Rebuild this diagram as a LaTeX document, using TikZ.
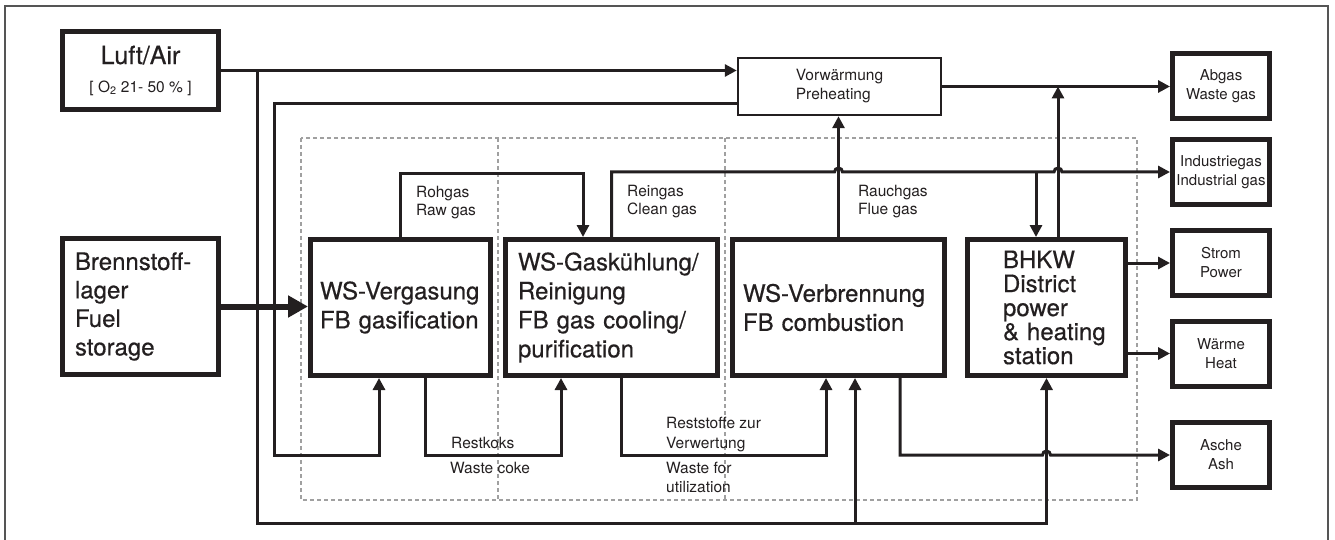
\documentclass[tikz,border=0pt]{standalone}
\usepackage{fontspec}
\setmainfont{TeX Gyre Heros}
\newfontface\medfont{TeX Gyre Heros}[FakeBold=0.5]
\usetikzlibrary{arrows.meta,calc}
\definecolor{ink}{HTML}{231F20}
\definecolor{framegray}{HTML}{555555}
\definecolor{dashgray}{HTML}{A0A0A0}
\exhyphenpenalty=10000
\hyphenpenalty=10000
\begin{document}
\begin{tikzpicture}[x=1pt,y=-1pt,
  pbox/.style={draw=ink, line width=5pt, align=left, inner sep=0pt, text=ink,
    font=\medfont\fontsize{24}{29}\selectfont},
  obox/.style={draw=ink, line width=5pt, align=center, inner sep=0pt,
    minimum width=97pt, minimum height=65pt, text=ink, font=\fontsize{15}{19}\selectfont},
  thinbox/.style={draw=ink, line width=2.5pt, align=left, inner sep=0pt, text=ink,
    font=\fontsize{15.5}{19}\selectfont},
  lab/.style={anchor=north west, inner sep=0pt, align=left, text=ink,
    font=\fontsize{15.5}{18}\selectfont},
  conn/.style={draw=ink, line width=3pt},
  arr/.style={conn, -{Triangle[length=12pt,width=12pt]}},
  fuelarr/.style={draw=ink, line width=6pt, -{Triangle[length=20pt,width=21pt]}},
  gdash/.style={draw=dashgray, line width=1.2pt, dash pattern=on 4pt off 3pt}]
\useasboundingbox (0,0) rectangle (1335,540);
\clip (0,0) rectangle (1335,540);
% frame and dashed zones
\draw[framegray, line width=1.5pt] (5,6) rectangle (1328,560);
\draw[gdash] (301,138) rectangle (1137,500);
\draw[gdash] (498,138) -- (498,500);
\draw[gdash] (725,138) -- (725,500);
% boxes
\node[pbox, align=center, minimum width=156pt, minimum height=78pt,
  font=\fontsize{15.5}{28}\selectfont] (luft) at (140.5,70.5)
  {{\medfont\fontsize{25}{28}\selectfont Luft/Air}\\{[ O\textsubscript{2} 21- 50 \% ]}};
\node[pbox, minimum width=156pt, minimum height=136pt, text width=131pt,
  font=\medfont\fontsize{24}{28.5}\selectfont] (brenn) at (140.5,306.5)
  {Brennstoff-\\lager\\Fuel\\storage};
\node[pbox, minimum width=180pt, minimum height=136pt, text width=161pt] (verg) at (400.5,307.5)
  {WS-Vergasung\\FB gasification};
\node[pbox, minimum width=212pt, minimum height=136pt, text width=187pt] (gask) at (611.5,307.5)
  {WS-Gaskühlung/\\Reinigung\\FB gas cooling/\\purification};
\node[pbox, minimum width=212pt, minimum height=136pt, text width=191pt] (verb) at (838.5,307.5)
  {WS-Verbrennung\\FB combustion};
\node[pbox, minimum width=158pt, minimum height=136pt, text width=87pt,
  font=\medfont\fontsize{24}{24}\selectfont] (bhkw) at (1046.5,307.5)
  {BHKW\\District\\power\\\mbox{\& heating}\\station};
\node[thinbox, minimum width=203pt, minimum height=57pt] (vorw) at (839.5,86.5)
  {Vorwärmung\\Preheating};
\node[obox] (abgas) at (1221,86) {Abgas\\Waste gas};
\node[obox] (indus) at (1221,172) {Industriegas\\Industrial gas};
\node[obox] (strom) at (1221,263) {Strom\\Power};
\node[obox] (waerme) at (1221,353.5) {Wärme\\Heat};
\node[obox] (asche) at (1221,455) {Asche\\Ash};
% labels
\node[lab] (lrohgas) at (416,186) {Rohgas\\Raw gas};
\node[lab] (lreingas) at (627,185) {Reingas\\Clean gas};
\node[lab] (lrauch) at (858,185) {Rauchgas\\Flue gas};
\node[lab] (lrestk) at (451,437) {Restkoks};
\node[lab] (lwcoke) at (450,462) {Waste coke};
\node[lab, font=\fontsize{15.5}{20}\selectfont] (lrests) at (666,417) {Reststoffe zur\\Verwertung};
\node[lab, font=\fontsize{15.5}{19}\selectfont] (lwfor) at (666,462) {Waste for\\utilization};
% helper coordinates
\coordinate (yR) at (0,174);
\coordinate (yC) at (0,172);
\coordinate (yB) at (0,455);
\coordinate (yA) at (0,523);
\coordinate (ja) at (257,70.5);
\coordinate (xP) at (274,0);
\coordinate (vg1) at ($(verg.south)+(-21.5,0)$);
\coordinate (vgo) at ($(verg.south)+(24.5,0)$);
\coordinate (gkn) at ($(gask.north)+(-28.5,0)$);
\coordinate (gki) at ($(gask.south)+(-50.5,0)$);
\coordinate (gko) at ($(gask.south)+(9.5,0)$);
\coordinate (vbi) at ($(verb.south)+(-12.5,0)$);
\coordinate (vb2) at ($(verb.south)+(16.5,0)$);
\coordinate (vbo) at ($(verb.south)+(61.5,0)$);
\coordinate (bk1) at ($(bhkw.north)+(-10.5,0)$);
\coordinate (bk2) at ($(bhkw.north)+(11.5,0)$);
% air
\draw[arr] (luft.east) -- (luft.east -| vorw.west);
\draw[arr] (ja) |- (bhkw.south |- yA) -- (bhkw.south);
\draw[arr] (vb2 |- yA) -- (vb2);
% preheated air
\draw[arr] ($(vorw.west)+(0,17.5)$) -| (xP |- yB) -| (vg1);
% fuel
\draw[fuelarr] (brenn.east) -- (brenn.east -| verg.west);
% raw gas
\draw[arr] (verg.north) |- (gkn |- yR) -- (gkn);
% clean gas
\draw[arr] (gask.north) |- ($(verb.north |- yC)+(-4,0)$)
  arc[start angle=180, end angle=360, radius=4]
  -- ($(bk2 |- yC)+(-4,0)$)
  arc[start angle=180, end angle=360, radius=4]
  -- (indus.west);
\draw[arr] (bk1 |- yC) -- (bk1);
% flue gas
\draw[arr] (verb.north) -- (verb.north |- vorw.south);
\draw[arr] (vorw.east) -- (vorw.east -| abgas.west);
\draw[arr] (bk2) -- (bk2 |- vorw.east);
% outputs of BHKW
\draw[arr] (bhkw.east |- strom.west) -- (strom.west);
\draw[arr] (bhkw.east |- waerme.west) -- (waerme.west);
% residues
\draw[arr] (vgo) |- (gki |- yB) -- (gki);
\draw[arr] (gko) |- (vbi |- yB) -- (vbi);
\draw[arr] (vbo) |- ($(bhkw.south |- yB)+(-4,0)$)
  arc[start angle=180, end angle=360, radius=4]
  -- (asche.west);
\end{tikzpicture}
\end{document}
